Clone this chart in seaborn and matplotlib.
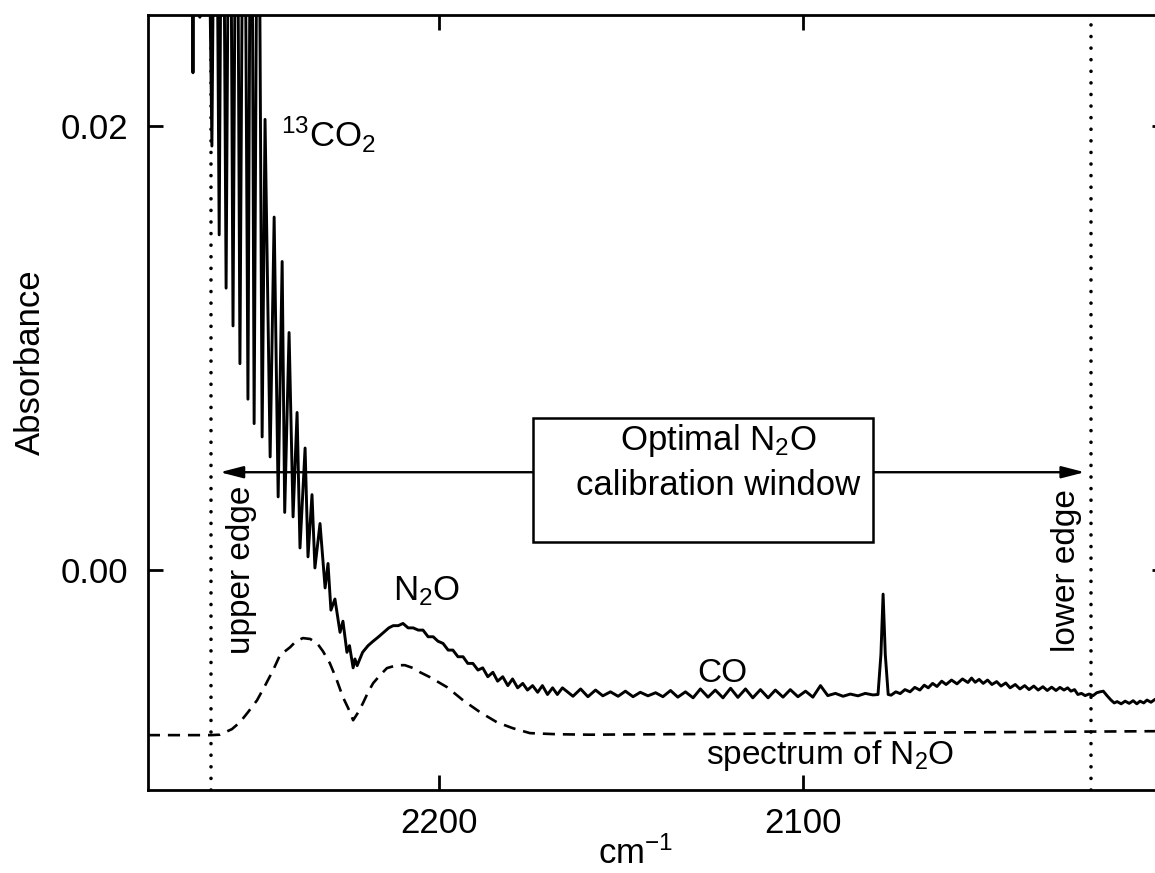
import matplotlib
matplotlib.use("Agg")
import matplotlib.pyplot as plt
import seaborn as sns
import pandas as pd
from matplotlib.patches import Rectangle

# ---------------- data ----------------
# measured spectrum (solid line): wavenumber in cm-1, absorbance
sample_wn = [
    2280.0, 2268.0, 2267.6, 2267.2, 2266.0, 2265.7, 2265.4, 2264.0, 2262.4, 2261.4,
    2260.4, 2259.5, 2258.5, 2257.5, 2256.6, 2255.6, 2254.7, 2253.6, 2252.5, 2251.6,
    2250.8, 2249.7, 2248.6, 2247.8, 2246.4, 2245.3, 2244.2, 2243.1, 2242.4, 2241.2,
    2240.1, 2239.0, 2238.2, 2236.8, 2236.0, 2234.9, 2234.1, 2232.7, 2231.3, 2230.5,
    2229.7, 2228.6, 2227.2, 2226.4, 2225.3, 2224.6, 2223.6, 2223.1, 2222.5,
    2221.0, 2219.5, 2218.1, 2216.6, 2215.2, 2213.8, 2212.6, 2211.2, 2209.9, 2208.5,
    2207.1, 2205.7, 2204.4, 2203.0, 2201.6, 2200.3, 2198.9, 2197.5, 2196.2, 2194.8,
    2193.4, 2192.1, 2190.7, 2189.3, 2188.0, 2186.6, 2185.2, 2183.9, 2182.5, 2181.1,
    2179.8, 2178.4, 2177.0, 2175.7, 2174.3, 2172.9, 2171.6, 2170.2, 2168.8, 2167.5,
    2166.1,
    2163.2, 2161.1, 2159.1, 2157.0, 2155.0, 2152.9, 2150.8, 2148.8, 2146.7, 2144.7,
    2142.6, 2140.5, 2138.5, 2136.4, 2134.4, 2132.3, 2130.2, 2128.2, 2126.1, 2124.1,
    2122.0, 2119.9, 2117.9, 2115.8, 2113.8, 2111.7, 2109.6, 2107.6, 2105.5, 2103.5,
    2101.4, 2099.3, 2097.3, 2095.2, 2093.2, 2091.1, 2089.0, 2087.0, 2084.9, 2082.9,
    2080.8,
    2079.4, 2078.6, 2078.0, 2077.4, 2076.6,
    2075.8, 2074.5, 2073.3, 2072.0, 2070.6, 2069.3, 2067.9, 2066.7, 2065.6, 2064.4,
    2063.2, 2061.9, 2060.7, 2059.2, 2057.7, 2056.2, 2054.7, 2053.7, 2052.7, 2051.6,
    2050.5, 2049.3, 2048.1, 2046.8, 2045.6, 2044.3, 2043.1, 2041.7, 2040.4, 2039.1,
    2037.9, 2036.6, 2035.4, 2034.1, 2032.9, 2031.7, 2030.5, 2029.4, 2028.3, 2027.3,
    2026.4, 2025.4, 2024.5, 2023.5, 2022.5, 2021.4, 2020.3, 2019.3, 2018.4, 2017.5,
    2016.5, 2015.4, 2014.5, 2013.7, 2012.6, 2011.5, 2010.4, 2009.3, 2008.3, 2007.4,
    2006.4, 2005.5, 2004.4, 2003.3, 2002.0, 2000.5,
]
sample_abs = [
    0.0400, 0.0400, 0.0224, 0.0400, 0.0400, 0.0249, 0.0400, 0.0400, 0.0191, 0.0400,
    0.0151, 0.0400, 0.0127, 0.0400, 0.0110, 0.0400, 0.0093, 0.0400, 0.0077, 0.0400,
    0.0066, 0.0400, 0.0060, 0.0203, 0.0051, 0.0159, 0.0033, 0.0139, 0.0026, 0.0107,
    0.0024, 0.0071, 0.0010, 0.0055, 0.0006, 0.0034, 0.0001, 0.0021, -0.0008, 0.0003,
    -0.0018, -0.0013, -0.0028, -0.0023, -0.0037, -0.0034, -0.0044, -0.0040, -0.0043,
    -0.0037, -0.0034, -0.0032, -0.0030, -0.0028, -0.0026, -0.0025, -0.0025, -0.0024, -0.0026,
    -0.0026, -0.0027, -0.0027, -0.0030, -0.0030, -0.0032, -0.0033, -0.0036, -0.0036, -0.0039,
    -0.0039, -0.0042, -0.0042, -0.0045, -0.0044, -0.0048, -0.0046, -0.0050, -0.0048, -0.0052,
    -0.0049, -0.0053, -0.0051, -0.0054, -0.0052, -0.0055, -0.0052, -0.0056, -0.0053, -0.0056,
    -0.0053,
    -0.00568, -0.00535, -0.00570, -0.00540, -0.00566, -0.00548, -0.00568, -0.00545, -0.00570, -0.00550,
    -0.00566, -0.00552, -0.00570, -0.00542, -0.00572, -0.00548, -0.00575, -0.00535, -0.00572, -0.00540,
    -0.00575, -0.00532, -0.00573, -0.00535, -0.00575, -0.00538, -0.00575, -0.00540, -0.00572, -0.00538,
    -0.00570, -0.00545, -0.00572, -0.00520, -0.00565, -0.00555, -0.00568, -0.00558, -0.00566, -0.00555,
    -0.00562,
    -0.00560, -0.00380, -0.00108, -0.00380, -0.00560,
    -0.00563, -0.00548, -0.00556, -0.00538, -0.00548, -0.00528, -0.00540, -0.00518, -0.00530, -0.00510,
    -0.00524, -0.00500, -0.00515, -0.00495, -0.00512, -0.00490, -0.00506, -0.00486, -0.00505, -0.00492,
    -0.00510, -0.00495, -0.00515, -0.00502, -0.00522, -0.00508, -0.00530, -0.00515, -0.00535, -0.00520,
    -0.00538, -0.00522, -0.00540, -0.00525, -0.00542, -0.00527, -0.00542, -0.00528, -0.00540, -0.00530,
    -0.00545, -0.00538, -0.00560, -0.00555, -0.00565, -0.00558, -0.00565, -0.00552, -0.00548, -0.00545,
    -0.00565, -0.00585, -0.00598, -0.00592, -0.00602, -0.00590, -0.00600, -0.00588, -0.00602, -0.00590,
    -0.00598, -0.00585, -0.00595, -0.00582, -0.00592, -0.00585,
]

# reference spectrum of N2O (dashed line)
n2o_wn = [
    2280.0, 2262.6, 2260.2, 2259.3, 2256.9, 2254.7, 2252.5, 2250.0, 2247.8, 2245.6,
    2243.7, 2240.9, 2239.3, 2237.4, 2235.4, 2233.5, 2231.9, 2230.0, 2228.2, 2226.4,
    2225.0, 2223.6, 2222.2, 2220.9, 2219.5, 2218.1, 2216.2, 2214.3, 2211.5, 2209.4,
    2207.1, 2205.2, 2202.5, 2197.8, 2193.4, 2188.7, 2184.1, 2179.7, 2175.0, 2167.6,
    2158.5, 2000.5,
]
n2o_abs = [
    -0.00743, -0.00743, -0.00741, -0.00734, -0.00716, -0.00685, -0.00640, -0.00586, -0.00520, -0.00451,
    -0.00383, -0.00347, -0.00320, -0.00306, -0.00310, -0.00329, -0.00365, -0.00419, -0.00490, -0.00572,
    -0.00620, -0.00676, -0.00640, -0.00599, -0.00550, -0.00509, -0.00473, -0.00441, -0.00428, -0.00428,
    -0.00441, -0.00460, -0.00482, -0.00527, -0.00586, -0.00640, -0.00685, -0.00712, -0.00734, -0.00739,
    -0.00741, -0.00725,
]

window_edges = [2262.6, 2020.9]           # upper edge, lower edge (cm-1)
edge_labels = ["upper edge", "lower edge"]
x_ticks = [2200, 2100]
y_ticks = [0.00, 0.02]
y_tick_labels = ["0.00", "0.02"]

# ---------------- styling ----------------
sns.set_theme(style="ticks")
plt.rcParams["font.family"] = ["Liberation Sans", "DejaVu Sans"]
plt.rcParams["mathtext.fontset"] = "custom"
plt.rcParams["mathtext.rm"] = "Liberation Sans"
plt.rcParams["mathtext.it"] = "Liberation Sans:italic"
plt.rcParams["mathtext.bf"] = "Liberation Sans:bold"
plt.rcParams["mathtext.default"] = "regular"
plt.rcParams["text.color"] = "black"
plt.rcParams["axes.labelcolor"] = "black"
plt.rcParams["xtick.color"] = "black"
plt.rcParams["ytick.color"] = "black"

FS = 25
FS_ANN = 24
fig = plt.figure(figsize=(11.55, 8.73), dpi=100)
ax = fig.add_axes([0.128, 0.0951, 0.8824, 0.8877])

df_sample = pd.DataFrame({"wn": sample_wn, "A": sample_abs})
df_n2o = pd.DataFrame({"wn": n2o_wn, "A": n2o_abs})

sns.lineplot(data=df_sample, x="wn", y="A", ax=ax, color="black", lw=2.1,
             sort=False, estimator=None, zorder=3)
sns.lineplot(data=df_n2o, x="wn", y="A", ax=ax, color="black", lw=1.9,
             linestyle=(0, (4.6, 3.0)), sort=False, estimator=None, zorder=3)

for xe in window_edges:
    ax.axvline(xe, color="black", lw=2.6, linestyle=(0, (0.01, 3.2)),
               dash_capstyle="round", zorder=2)

ax.set_xlim(2280, 2000)
ax.set_ylim(-0.0099, 0.025)
ax.set_xticks(x_ticks)
ax.set_xticklabels([str(t) for t in x_ticks])
ax.set_yticks(y_ticks)
ax.set_yticklabels(y_tick_labels)
ax.tick_params(direction="in", length=11, width=2.0, top=True, right=True,
               labelsize=FS, colors="black")
ax.tick_params(axis="x", pad=12)
ax.tick_params(axis="y", pad=14)
for s in ax.spines.values():
    s.set_linewidth(2.0)
    s.set_color("black")

ax.set_xlabel("")
ax.set_ylabel("")
fig.text(636 / 1155, 2 / 873, "cm$^{-1}$", ha="center", va="bottom",
         fontsize=FS)
fig.text(30 / 1155, 1 - 362 / 873, "Absorbance", rotation=90,
         ha="center", va="center", fontsize=FS)

# double arrow for calibration window
ax.annotate("", xy=(2260.2, 0.00441), xytext=(2022.6, 0.00441),
            arrowprops=dict(arrowstyle="<|-|>,head_length=0.7,head_width=0.18",
                            color="black", lw=1.7, mutation_scale=20,
                            shrinkA=0, shrinkB=0), zorder=4)
ax.add_patch(Rectangle((2080.8, 0.00126), 93.4, 0.00559, facecolor="white",
                       edgecolor="black", lw=1.8, zorder=5))
ax.text(2123.4, 0.0054, "Optimal N$_2$O", ha="center", va="baseline",
        fontsize=FS, zorder=6)
ax.text(2123.4, 0.00338, "calibration window", ha="center", va="baseline",
        fontsize=FS, zorder=6)

# labels
ax.text(2243.4, 0.01905, "$^{13}$CO$_2$", ha="left", va="baseline", fontsize=FS)
ax.text(2212.6, -0.00135, "N$_2$O", ha="left", va="baseline", fontsize=FS)
ax.text(2129.1, -0.00505, "CO", ha="left", va="baseline", fontsize=FS_ANN)
ax.text(2126.6, -0.00874, "spectrum of N$_2$O", ha="left", va="baseline", fontsize=FS_ANN)
ax.text(2254.4, 0.0, edge_labels[0], rotation=90, ha="center", va="center", fontsize=FS_ANN)
ax.text(2027.7, 0.0, edge_labels[1], rotation=90, ha="center", va="center", fontsize=FS_ANN)

fig.savefig("out.png", dpi=100, facecolor="white")
